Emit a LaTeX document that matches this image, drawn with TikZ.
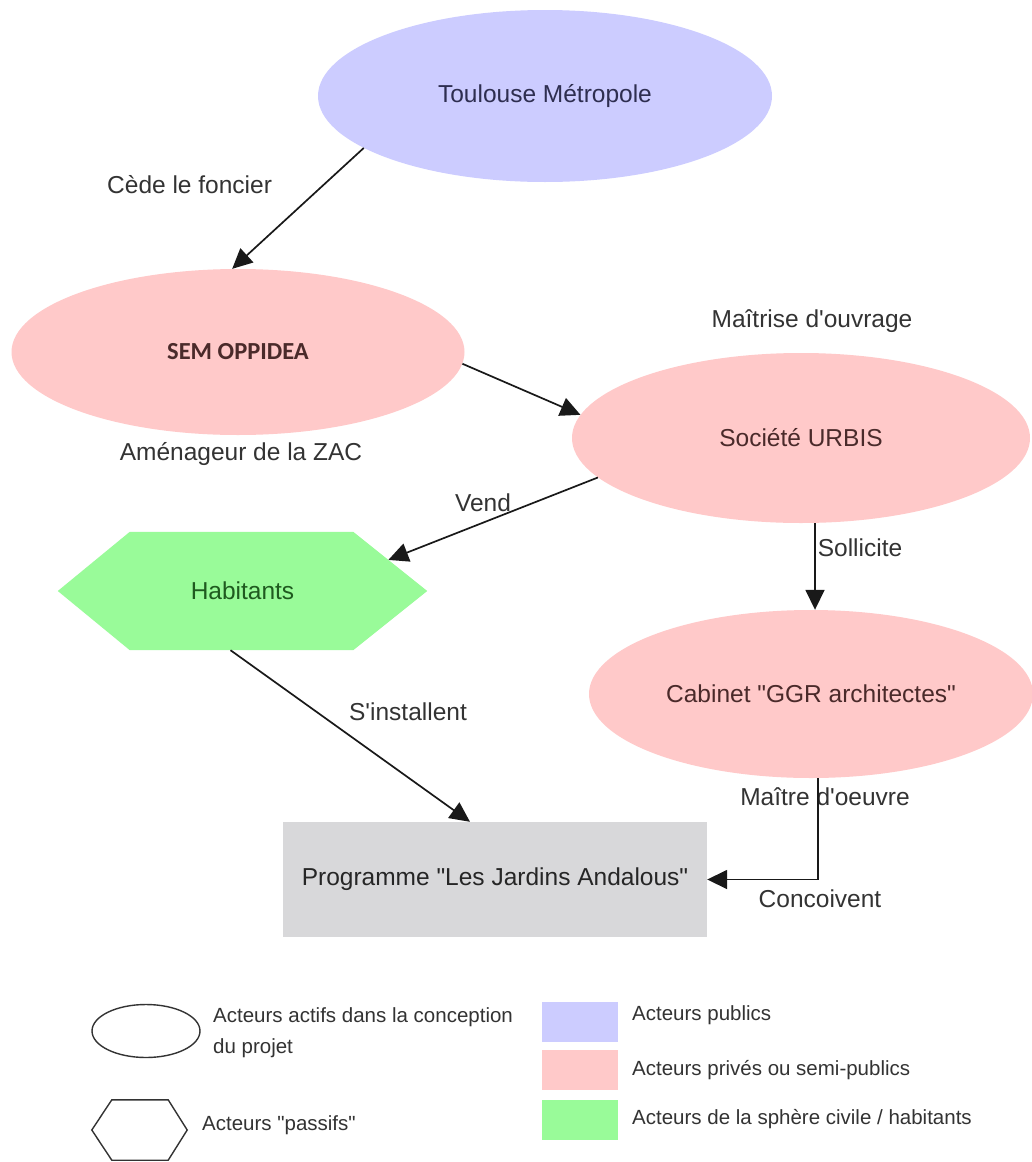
\documentclass[tikz,border=0pt]{standalone}
\usepackage{fontspec}
\setmainfont{Liberation Sans}[Ligatures=TeXOff]
\newfontfamily\calibrifont{Carlito}
\usetikzlibrary{shapes.geometric,arrows.meta,backgrounds,calc}
\definecolor{pubblue}{HTML}{CCCCFF}
\definecolor{privpink}{HTML}{FFC9C9}
\definecolor{civgreen}{HTML}{99FB99}
\definecolor{progray}{HTML}{D8D8DA}
\definecolor{labtext}{HTML}{333333}
\definecolor{bluetext}{HTML}{2E2E50}
\definecolor{pinktext}{HTML}{4A2A2A}
\definecolor{greentext}{HTML}{1F5A1F}
\begin{document}
\begin{tikzpicture}[x=1pt,y=-1pt,
  actor/.style={ellipse, inner sep=0pt, font=\fontsize{24.5}{29}\selectfont},
  lbl/.style={font=\fontsize{24.5}{29}\selectfont, text=labtext, inner sep=0pt, anchor=base},
  legtext/.style={font=\fontsize{20.5}{25}\selectfont, text=labtext, inner sep=0pt, anchor=base west},
  swatch/.style={minimum width=76pt, minimum height=40pt, inner sep=0pt},
  conn/.style={line width=1.7pt, draw=black!90, -{Triangle[length=20pt,width=19pt]}},
  legline/.style={line width=1.4pt, draw=black!80},
]
\begin{scope}[on background layer]
  \fill[white] (0,0) rectangle (1032,1162);
\end{scope}
\useasboundingbox (0,0) rectangle (1032,1162);

% actors
\node[actor, fill=pubblue, text=bluetext, minimum width=454pt, minimum height=172pt] (tm) at (545,96) {Toulouse Métropole};
\node[actor, fill=privpink, text=pinktext, minimum width=453pt, minimum height=166pt, font=\calibrifont\bfseries\fontsize{24.5}{29}\selectfont] (sem) at (238,352) {SEM OPPIDEA};
\node[actor, fill=privpink, text=pinktext, minimum width=458pt, minimum height=170pt] (urbis) at (801,438) {Société URBIS};
\node[actor, fill=privpink, text=pinktext, minimum width=444pt, minimum height=168pt] (cab) at (811,694) {Cabinet "GGR architectes"};

% habitants hexagon
\node[font=\fontsize{24.5}{29}\selectfont, text=greentext, minimum width=369pt, minimum height=118pt, inner sep=0pt] (hab) at (242.5,591) {Habitants};
\begin{scope}[on background layer]
  \fill[civgreen] (hab.west) -- ([xshift=72pt]hab.north west) -- ([xshift=-74pt]hab.north east) -- (hab.east) -- ([xshift=-74pt]hab.south east) -- ([xshift=72pt]hab.south west) -- cycle;
\end{scope}
\coordinate (habin) at ($([xshift=-74pt]hab.north east)!0.475!(hab.east)$);

% programme
\node[fill=progray, text=black!85, minimum width=424pt, minimum height=115pt, inner sep=0pt, font=\fontsize{24.5}{29}\selectfont] (prog) at (495,879.5) {Programme "Les Jardins Andalous"};

% labels
\node[lbl, anchor=base west] (l1) at (107,193) {Cède le foncier};
\node[lbl] (l2) at (241,460) {Aménageur de la ZAC};
\node[lbl] (l3) at (812,327) {Maîtrise d'ouvrage};
\node[lbl] (l4) at (483,511) {Vend};
\node[lbl] (l5) at (860,556) {Sollicite};
\node[lbl] (l6) at (408,720) {S'installent};
\node[lbl] (l7) at (825,805) {Maître d'oeuvre};
\node[lbl] (l8) at (820,907) {Concoivent};

% connectors
\draw[conn] (tm.196) -- (sem.94);
\draw[conn] (sem.-3) -- (urbis.174);
\draw[conn] (urbis.191.6) -- (habin);
\draw[conn] ([xshift=14pt]urbis.south) -- ([xshift=4pt]cab.north);
\draw[conn] ([xshift=7pt]cab.south) |- (prog.east);
\draw[conn] ([xshift=-12pt]hab.south) -- ([xshift=-25pt]prog.north);

% legend
\node[ellipse, legline, minimum width=108pt, minimum height=53pt, inner sep=0pt] (lell) at (146,1031) {};
\node[minimum width=95pt, minimum height=60pt, inner sep=0pt] (lhex) at (139.5,1130) {};
\draw[legline] (lhex.west) -- ([xshift=20pt]lhex.north west) -- ([xshift=-19pt]lhex.north east) -- (lhex.east) -- ([xshift=-19pt]lhex.south east) -- ([xshift=20pt]lhex.south west) -- cycle;
\node[legtext] (lt1) at (213,1022) {Acteurs actifs dans la conception};
\node[legtext] (lt1b) at (213,1053) {du projet};
\node[legtext] (lt2) at (202,1130) {Acteurs "passifs"};

\node[swatch, fill=pubblue] (sw1) at (580,1022) {};
\node[swatch, fill=privpink] (sw2) at (580,1070) {};
\node[swatch, fill=civgreen] (sw3) at (580,1120) {};
\node[legtext] (lt3) at (632,1020) {Acteurs publics};
\node[legtext] (lt4) at (632,1075) {Acteurs privés ou semi-publics};
\node[legtext] (lt5) at (632,1124) {Acteurs de la sphère civile / habitants};
\end{tikzpicture}
\end{document}
